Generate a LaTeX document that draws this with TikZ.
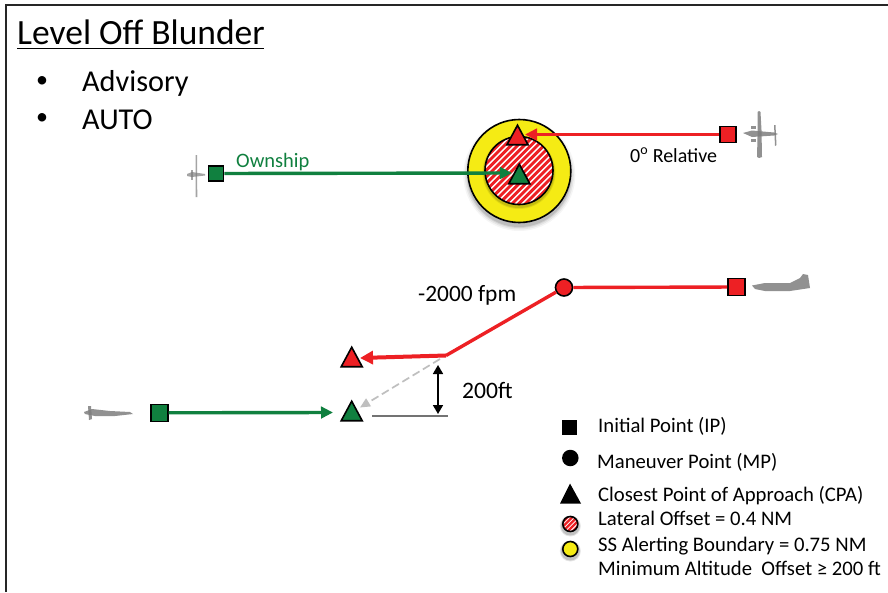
\documentclass[tikz,border=0pt]{standalone}
\usepackage{fontspec}
\setmainfont{Carlito}
\usetikzlibrary{shapes.geometric,arrows.meta}
\definecolor{cred}{HTML}{ED2024}
\definecolor{cgreen}{HTML}{10803F}
\definecolor{cyell}{HTML}{F5EB14}
\definecolor{cplane}{HTML}{7E7E7E}
\tikzset{
  sq/.style={draw=black,line width=1.6pt,minimum size=#1,inner sep=0pt,rectangle},
  dot/.style={draw=black,line width=1.6pt,minimum size=#1,inner sep=0pt,circle},
  tri/.style={draw=black,line width=1.6pt,isosceles triangle,isosceles triangle apex angle=56,
    isosceles triangle stretches,shape border rotate=90,inner sep=0pt,minimum height=19.5pt,minimum width=21pt,anchor=apex},
  lab/.style={anchor=base west,inner sep=0pt,text=#1},
  lab/.default=black,
  redln/.style={draw=cred,line width=3.4pt},
  grnln/.style={draw=cgreen,line width=3.4pt},
  tipr/.style={-{Triangle[length=12pt,width=11.5pt]}},
  plane/.style={fill=cplane,draw=none,opacity=.85},
}
\newcommand{\legfont}{\fontsize{20.7}{23}\selectfont}
\newcommand{\bigfont}{\fontsize{30.3}{33}\selectfont}
\begin{document}
\begin{tikzpicture}[x=1pt,y=-1pt]
\useasboundingbox (0,0) rectangle (888,592);
\fill[white] (0,0) rectangle (888,592);
\draw[line width=1.7pt,black!85] (6,592) -- (6,5) -- (888,5);
% title
\node[lab] (title) at (17,44) {\fontsize{35.5}{38}\selectfont Level Off Blunder};
\draw[line width=1.4pt] (17,48.7) -- (264,48.7);
\node[anchor=center,inner sep=0pt] (b1) at (42,82) {\fontsize{24}{26}\selectfont •};
\node[anchor=center,inner sep=0pt] (b2) at (42,119) {\fontsize{24}{26}\selectfont •};
\node[lab] (adv) at (82,91.5) {\bigfont Advisory};
\node[lab] (auto) at (82,129.5) {\bigfont AUTO};
% big circles
\foreach \r/\o in {56/.04,54.5/.06,53/.08,52/.1}
  \fill[black,opacity=\o] (519.3,175) circle[radius=\r];
\draw[fill=cyell,line width=1.6pt] (519.3,171) circle[radius=51.5];
\foreach \r/\o in {36.5/.08,35.5/.12}
  \fill[black,opacity=\o] (519,172.5) circle[radius=\r];
\begin{scope}
\clip (519,170.5) circle[radius=34];
\fill[white] (480,130) rectangle (560,210);
\foreach \i in {-12,...,14}
  \draw[cred,line width=2.9pt] (519+\i*6.6-45,170.5+45) -- (519+\i*6.6+45,170.5-45);
\end{scope}
\draw[line width=1.6pt] (519,170.5) circle[radius=34];
% top scene
\node[sq=16pt,fill=cred] (irs) at (728,134.5) {};
\node[tri,fill=cred] (trt) at (517.5,123.5) {};
\node[tri,fill=cgreen] (tgt) at (519.3,162.5) {};
\coordinate (tipa) at (525,134.5);
\coordinate (tipb) at (512,173);
\node[sq=15pt,fill=cgreen] (igs) at (216,173.5) {};
\draw[redln,tipr] (irs) -- (tipa);
\draw[grnln,tipr] (igs) -- (tipb);
\node[lab=cgreen] (own) at (236,167) {\fontsize{20.5}{22}\selectfont Ownship};
\node[lab] (rel) at (630,162.5) {\fontsize{20}{22}\selectfont 0\textsuperscript{o} Relative};
% lower scene
\node[sq=17pt,fill=cred] (irl) at (736.5,287) {};
\node[dot=17pt,fill=cred] (mp) at (564,287.5) {};
\coordinate (bend) at (446,355.5);
\coordinate (tipc) at (360,358);
\draw[redln] (irl) -- (mp);
\draw[redln] (mp) -- (bend);
\node[tri,fill=cred] (trl) at (351.7,345.5) {};
\node[tri,fill=cgreen] (tgl) at (351.7,399.5) {};
\draw[draw=cred,line width=4pt,-{Triangle[length=13pt,width=13pt]}] (bend) -- (tipc);
\coordinate (dashend) at (360,407.5);
\draw[draw=black!25,line width=1.7pt,dash pattern=on 8pt off 4pt,-{Triangle[length=10pt,width=9pt]}] (440,359) -- (dashend);
\node[sq=17pt,fill=cgreen] (igl) at (159.3,412.8) {};
\coordinate (tipd) at (333,412.5);
\draw[grnln,tipr] (igl) -- (tipd);
\coordinate (alta) at (438,365);
\coordinate (altb) at (438,414);
\draw[line width=1.7pt,{Triangle[length=9pt,width=10pt]}-{Triangle[length=9pt,width=10pt]}] (alta) -- (altb);
\coordinate (basea) at (372.3,416);
\coordinate (baseb) at (448.3,416);
\draw[line width=1.4pt,black!55] (basea) -- (baseb);
\node[lab] (fpm) at (418,301) {\fontsize{23.4}{26}\selectfont -2000 fpm};
\node[lab] (ft) at (462,398) {\fontsize{23.6}{26}\selectfont 200ft};
% legend
\node[sq=15.5pt,draw=none,fill=black] (lsq) at (569.5,427.5) {};
\node[dot=16.5pt,draw=none,fill=black] (lci) at (570.3,458) {};
\fill[black] (570,483.5) -- (581,503.5) -- (560,503.5) -- cycle;
\foreach \c/\y in {a/524.5,b/549.5}{
  \foreach \r/\o in {10.5/.1,9.5/.15}
    \fill[black,opacity=\o] (570.3,\y+1.5) circle[radius=\r];
}
\begin{scope}
\clip (570.3,524) circle[radius=7.5];
\fill[white] (560,514) rectangle (580,534);
\foreach \i in {-3,...,3}
  \draw[cred,line width=2.3pt] (570.3+\i*4.8-12,524+12) -- (570.3+\i*4.8+12,524-12);
\end{scope}
\draw[line width=1.6pt] (570.3,524) circle[radius=7.5];
\draw[fill=cyell,line width=1.6pt] (570.3,549) circle[radius=7.5];
\node[lab] (l1) at (598,432.7) {\legfont Initial Point (IP)};
\node[lab] (l2) at (597,468.7) {\legfont Maneuver Point (MP)};
\node[lab] (l3) at (598,501.4) {\legfont Closest Point of Approach (CPA)};
\node[lab] (l4) at (598,525.7) {\legfont Lateral Offset = 0.4 NM};
\node[lab] (l5) at (598,551.2) {\legfont SS Alerting Boundary = 0.75 NM};
\node[lab] (l6) at (598,575.4) {\legfont Minimum Altitude\ \ Offset ≥ 200 ft};
% aircraft: top right
\fill[plane] (743,133) -- (752,130.5) -- (774,132.5) -- (778,134) -- (774,135.5) -- (752,137) -- cycle;
\fill[plane] (757.5,112) -- (759,111) -- (760.5,112) -- (761.5,130) -- (762,157) -- (759,158) -- (757,157) -- (757.5,137) -- cycle;
\fill[plane] (774,125) -- (775.5,125) -- (776.5,145) -- (775,146) -- cycle;
\fill[plane] (751,126) rectangle (756,129);
\fill[plane] (751,139) rectangle (756,142);
% aircraft: top left
\fill[plane,opacity=.7] (195.5,155) -- (197,155) -- (197.3,197) -- (195.7,197) -- cycle;
\fill[plane,opacity=.7] (187,174) -- (192,172) -- (205,174) -- (205,175.5) -- (192,177) -- (187,176) -- cycle;
\fill[plane,opacity=.7] (190.5,170) rectangle (192.5,180);
% aircraft: lower right
\fill[plane] (752,285.5) -- (765,283) -- (790,283) -- (800,278) -- (803,274) -- (808,275) -- (810,288) -- (790,291) -- (765,291) -- (755,289) -- cycle;
% aircraft: lower left
\fill[plane] (84,412) -- (92,409) -- (110,411) -- (130,412) -- (133,414) -- (115,416) -- (95,416) -- (85,414) -- cycle;
\fill[plane] (88,406) -- (91,406) -- (92,419) -- (89,420) -- cycle;
\end{tikzpicture}
\end{document}
